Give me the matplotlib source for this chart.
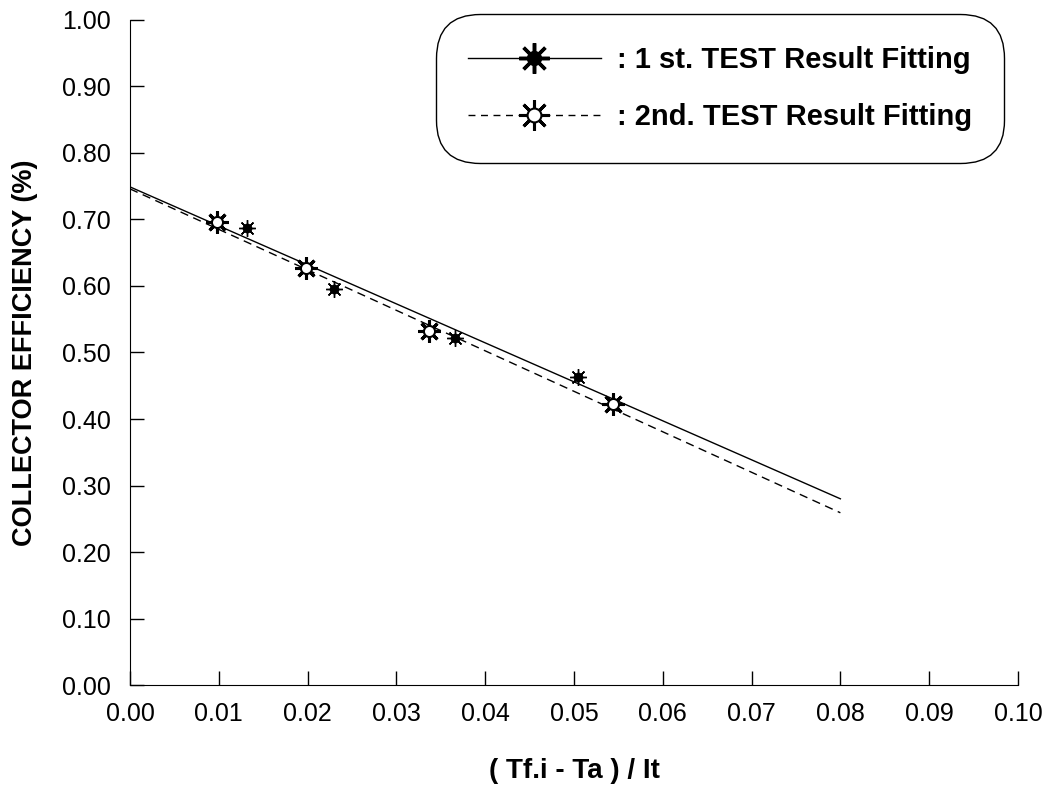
import matplotlib
matplotlib.use("Agg")
from matplotlib import pyplot as plt
from matplotlib.lines import Line2D
from matplotlib.legend_handler import HandlerTuple

plt.rcParams['font.family'] = ['Liberation Sans', 'DejaVu Sans']

# 1st test (filled marker)
x1 = [0.0132, 0.0230, 0.0366, 0.0505]
y1 = [0.687, 0.596, 0.522, 0.463]
# 2nd test (open marker)
x2 = [0.0098, 0.0198, 0.0337, 0.0544]
y2 = [0.696, 0.627, 0.532, 0.423]

# fitting lines
fit_x = [0.0, 0.08]
fit1_y = [0.749, 0.280]
fit2_y = [0.746, 0.259]

xticks = [0.00, 0.01, 0.02, 0.03, 0.04, 0.05, 0.06, 0.07, 0.08, 0.09, 0.10]
yticks = [0.00, 0.10, 0.20, 0.30, 0.40, 0.50, 0.60, 0.70, 0.80, 0.90, 1.00]

fig = plt.figure(figsize=(10.46, 7.9), dpi=100)
ax = fig.add_axes([0.1243, 0.1329, 0.8489, 0.8418])

ax.plot(fit_x, fit1_y, color='black', lw=1.0)
ax.plot(fit_x, fit2_y, color='black', lw=1.0, dashes=(6, 4))

# filled "sun" markers
ax.plot(x1, y1, ls='none', marker=(8, 2, 0), ms=12, mew=1.0, color='black')
ax.plot(x1, y1, ls='none', marker='o', ms=6, color='black')
# open "sun" markers
ax.plot(x2, y2, ls='none', marker=(8, 2, 0), ms=16, mew=2.2, color='black')
ax.plot(x2, y2, ls='none', marker='o', ms=8, mfc='white', mec='black', mew=1.5)

ax.set_xlim(0, 0.1)
ax.set_ylim(0, 1.0)
ax.set_xticks(xticks)
ax.set_yticks(yticks)
ax.set_xticklabels(['%.2f' % v for v in xticks])
ax.set_yticklabels(['%.2f' % v for v in yticks])
ax.tick_params(direction='in', length=10, width=1, labelsize=18)
ax.tick_params(axis='x', pad=12)
ax.tick_params(axis='y', pad=14)
ax.spines['top'].set_visible(False)
ax.spines['right'].set_visible(False)

ax.set_xlabel('( Tf.i - Ta ) / It', fontsize=20, fontweight='bold', labelpad=23)
ax.set_ylabel('COLLECTOR EFFICIENCY (%)', fontsize=19.5, fontweight='bold', labelpad=17)

# legend
h1 = (Line2D([], [], color='black', lw=1.0),
      Line2D([], [], ls='none', marker=(8, 2, 0), ms=22, mew=2.5, color='black'),
      Line2D([], [], ls='none', marker='o', ms=10, color='black'))
h2 = (Line2D([], [], color='black', lw=1.0, dashes=(5, 4)),
      Line2D([], [], ls='none', marker=(8, 2, 0), ms=22, mew=2.2, color='black'),
      Line2D([], [], ls='none', marker='o', ms=10, mfc='white', mec='black', mew=1.5))
leg = ax.legend([h1, h2], [': 1 st. TEST Result Fitting', ': 2nd. TEST Result Fitting'],
                handler_map={tuple: HandlerTuple(ndivide=1)},
                loc='upper left', bbox_to_anchor=(0.3446, 1.009),
                prop={'weight': 'bold', 'size': 21},
                handlelength=4.55, handletextpad=0.55, labelspacing=1.0,
                borderpad=1.1, borderaxespad=0, fancybox=True, framealpha=1,
                edgecolor='black')
leg.get_frame().set_linewidth(1.0)
leg.get_frame().set_boxstyle('round', pad=0, rounding_size=1.5)

fig.savefig('out.png', dpi=100)
